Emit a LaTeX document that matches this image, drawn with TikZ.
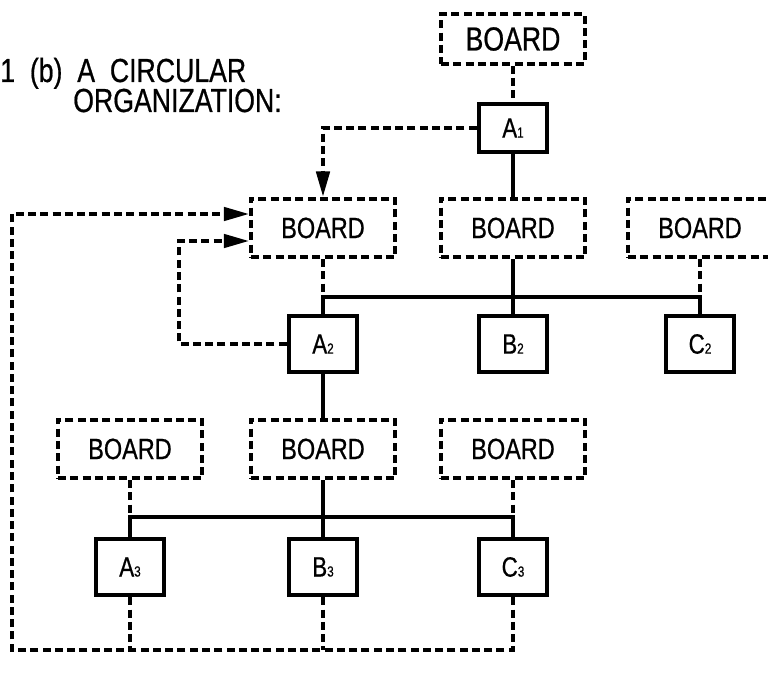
\documentclass[tikz,border=0pt]{standalone}
\usepackage{fontspec}
\setmainfont{Liberation Sans}[FakeStretch=0.8, FakeBold=0.6]
\usetikzlibrary{arrows.meta}
\newcommand{\lab}[2]{#1{\fontsize{11}{11}\selectfont #2}}
\begin{document}
\begin{tikzpicture}[x=0.75pt,y=-0.75pt,
  board/.style={draw, line width=2.8pt, dash pattern=on 6pt off 3.2pt, minimum width=108pt, minimum height=44pt, inner sep=0pt, font=\fontsize{22}{22}\selectfont},
  person/.style={draw, line width=3.4pt, minimum width=51pt, minimum height=42pt, inner sep=0pt, font=\fontsize{21}{21}\selectfont},
  solidln/.style={line width=2.8pt},
  dashln/.style={line width=2.8pt, dash pattern=on 6pt off 3.2pt},
  arr/.style={-{Triangle[length=19pt,width=10pt]}},
  titletext/.style={anchor=base west, inner sep=0pt, text height=18pt, text depth=3pt, font=\fontsize{25}{25}\selectfont}]
\useasboundingbox (0,0) rectangle (768,680);
% title
\node[titletext] (t1) at (0,82) {1\ \ (b)\ \ A\ \ CIRCULAR};
\node[titletext] (t2) at (73,112) {ORGANIZATION:};
% nodes
\node[board, minimum height=37pt, font=\fontsize{25}{25}\selectfont] (tb) at (513,39) {BOARD};
\node[person, minimum height=36pt] (a1) at (513,128) {\lab{A}{1}};
\node[board] (b2a) at (323,228) {BOARD};
\node[board] (b2b) at (513,228) {BOARD};
\node[board] (b2c) at (700,228) {BOARD};
\node[person] (a2) at (323,344) {\lab{A}{2}};
\node[person] (bb2) at (513,344) {\lab{B}{2}};
\node[person] (c2) at (700,344) {\lab{C}{2}};
\node[board] (b3a) at (130,449) {BOARD};
\node[board] (b3b) at (323,449) {BOARD};
\node[board] (b3c) at (513,449) {BOARD};
\node[person] (a3) at (130,567) {\lab{A}{3}};
\node[person] (bb3) at (323,567) {\lab{B}{3}};
\node[person] (c3) at (513,567) {\lab{C}{3}};
% helper coordinates
\coordinate (h2) at (0,297);
\coordinate (h3) at (0,517);
\coordinate (loopA) at (179,344);
\coordinate (loopB) at (179,241);
\coordinate (ob) at (12,650);
\coordinate (ot) at (12,214);
% top
\draw[dashln] (tb) -- (a1);
\draw[solidln] (a1) -- (b2b);
\draw[dashln, arr] (a1.west) -| (b2a.north);
% row 2
\draw[solidln] (a2) -- (a2 |- h2) -- (c2 |- h2) -- (c2);
\draw[solidln] (b2b) -- (bb2);
\draw[dashln] (b2a) -- (b2a |- h2);
\draw[dashln] (b2c) -- (b2c |- h2);
\draw[dashln, arr] (a2.west) -- (loopA) -- (loopB) -- (b2a.west |- loopB);
% row 3
\draw[solidln] (a2) -- (b3b);
\draw[solidln] (a3) -- (a3 |- h3) -- (c3 |- h3) -- (c3);
\draw[solidln] (b3b) -- (bb3);
\draw[dashln] (b3a) -- (b3a |- h3);
\draw[dashln] (b3c) -- (b3c |- h3);
% outer loop
\draw[dashln] (a3) -- (a3 |- ob);
\draw[dashln] (bb3) -- (bb3 |- ob);
\draw[dashln, arr] (c3) -- (c3 |- ob) -- (ob) -- (ot) -- (b2a.west |- ot);
\end{tikzpicture}
\end{document}
